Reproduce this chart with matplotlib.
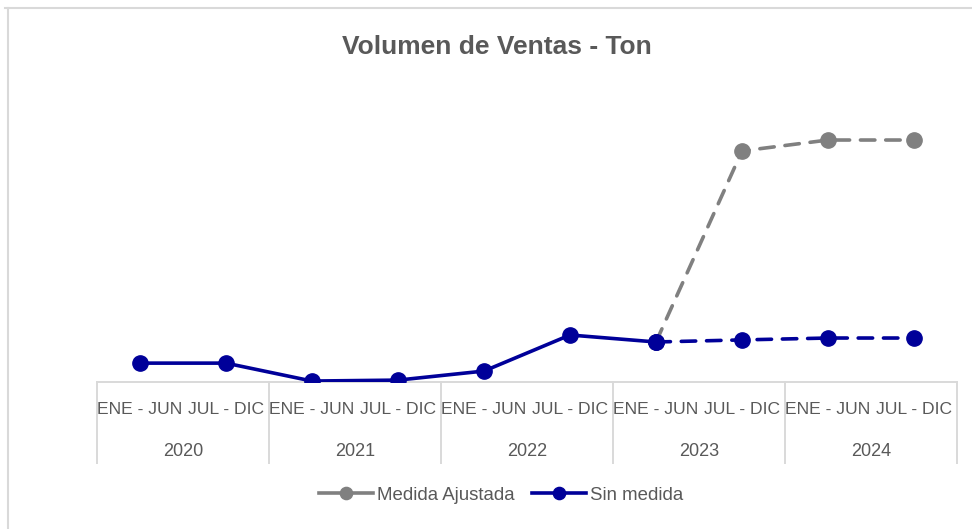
import matplotlib
matplotlib.use("Agg")
import matplotlib.pyplot as plt
import numpy as np
from matplotlib.lines import Line2D
from matplotlib.transforms import blended_transform_factory

plt.rcParams["font.family"] = ["Liberation Sans", "DejaVu Sans"]

# --- datos ---
years = ["2020", "2021", "2022", "2023", "2024"]
semesters = ["ENE - JUN", "JUL - DIC"]
sin_medida = [1000, 1000, 50, 100, 580, 2490, 2120, 2230, 2330, 2330]
medida_ajustada = [np.nan] * 6 + [2120, 12240, 12820, 12820]
n_real = 7          # puntos reales de "Sin medida" (el resto es proyección)

NAVY = "#000099"
GRAY = "#808080"
INK = "#595959"
LINE = "#d9d9d9"
W, H = 972, 529

fig = plt.figure(figsize=(W / 100, H / 100), dpi=100)
ax = fig.add_axes([97 / W, 1 - 382 / H, 860 / W, 302 / H])

x = np.arange(len(sin_medida))
lw, ms = 2.6, 11

ax.plot(x, medida_ajustada, color=GRAY, lw=lw, marker="o", ms=ms,
        dashes=(4, 3), dash_capstyle="round", zorder=2)
ax.plot(x[:n_real], sin_medida[:n_real], color=NAVY, lw=lw, marker="o", ms=ms, zorder=3)
ax.plot(x[n_real - 1:], sin_medida[n_real - 1:], color=NAVY, lw=lw, marker="o", ms=ms,
        dashes=(4, 3), dash_capstyle="round", zorder=3)

ax.set_xlim(-0.5, len(x) - 0.5)
ax.set_ylim(0, 16000)
ax.set_xticks([])
ax.set_yticks([])
for s in ("top", "right", "left"):
    ax.spines[s].set_visible(False)
ax.spines["bottom"].set_color(LINE)
ax.spines["bottom"].set_linewidth(1.4)

# tabla de categorías (semestre / año)
tr = blended_transform_factory(ax.transData, fig.transFigure)
y_top, y_sem, y_year, y_bot = [1 - p / H for p in (382, 410, 451, 463)]
for i in range(len(years) + 1):
    xb = 2 * i - 0.5
    ax.add_line(Line2D([xb, xb], [y_top, y_bot], transform=tr, color=LINE,
                       lw=1.4, clip_on=False))
for i, yr in enumerate(years):
    for j, sem in enumerate(semesters):
        ax.text(2 * i + j, y_sem, sem, transform=tr, ha="center", va="center",
                fontsize=12.6, color=INK)
    ax.text(2 * i + 0.5, y_year, yr, transform=tr, ha="center", va="center",
            fontsize=13, color=INK)

fig.text(497 / W, 1 - 47 / H, "Volumen de Ventas - Ton", ha="center", va="center",
         fontsize=19, fontweight="bold", color=INK)

handles = [Line2D([], [], color=GRAY, lw=lw, marker="o", ms=ms * 0.8),
           Line2D([], [], color=NAVY, lw=lw, marker="o", ms=ms * 0.8)]
fig.legend(handles, ["Medida Ajustada", "Sin medida"], loc="center",
           bbox_to_anchor=(501 / W, 1 - 495 / H), ncol=2, frameon=False,
           fontsize=13.4, labelcolor=INK, handlelength=2.9, handletextpad=0.25,
           columnspacing=0.9)

# marco del gráfico (recortado: solo borde superior e izquierdo)
fig.add_artist(Line2D([5 / W, 1], [1 - 8 / H] * 2, transform=fig.transFigure,
                      color=LINE, lw=1.5))
fig.add_artist(Line2D([8 / W] * 2, [0, 1 - 8 / H], transform=fig.transFigure,
                      color=LINE, lw=1.5))

fig.savefig("out.png", dpi=100, facecolor="white")
